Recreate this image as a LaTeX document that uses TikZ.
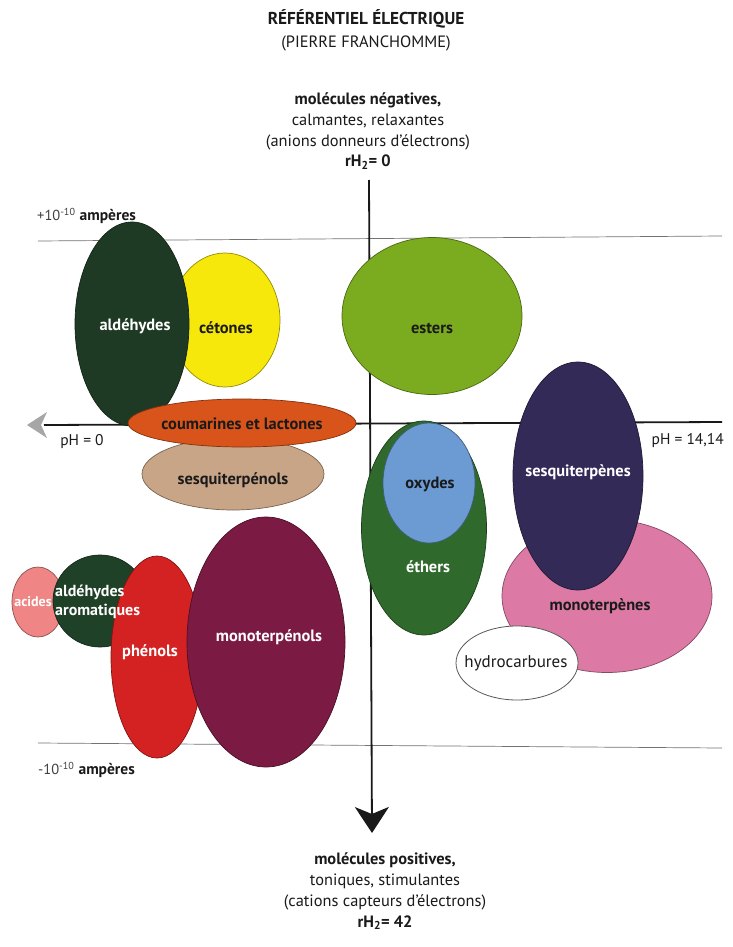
\documentclass[tikz,border=0pt]{standalone}
\usepackage{fontspec}
\setmainfont{PT Sans}
\usetikzlibrary{shapes.geometric,arrows.meta}
\definecolor{cAld}{HTML}{1F3A24}
\definecolor{cCet}{HTML}{F6E80A}
\definecolor{cEst}{HTML}{7BAB1F}
\definecolor{cCou}{HTML}{D8541A}
\definecolor{cSqo}{HTML}{C9A587}
\definecolor{cEth}{HTML}{2F6A2C}
\definecolor{cOxy}{HTML}{6B9BD2}
\definecolor{cSqe}{HTML}{342A58}
\definecolor{cMoe}{HTML}{DC7AA5}
\definecolor{cAci}{HTML}{EF8585}
\definecolor{cAro}{HTML}{1F4128}
\definecolor{cPhe}{HTML}{D42222}
\definecolor{cMoo}{HTML}{7B1A42}
\definecolor{cTxt}{HTML}{1A1A1A}
\tikzset{
  blob/.style={ellipse, fill=#1, draw=#1!60!black, line width=0.7pt, inner sep=0pt},
  lab/.style={font=\fontsize{16.4}{19}\selectfont\bfseries, text=cTxt, inner sep=0pt},
  wlab/.style={font=\fontsize{16.4}{19}\selectfont\bfseries, text=white, inner sep=0pt},
  txt/.style={font=\fontsize{16.4}{19}\selectfont, text=cTxt, inner sep=0pt},
  thinline/.style={draw=black!55, line width=0.7pt},
  axis/.style={draw=black!90, line width=1.8pt}
}
\begin{document}
\begin{tikzpicture}[x=1pt,y=-1pt]
\useasboundingbox[fill=white] (0,0) rectangle (732,947);

% titles
\node[txt, font=\fontsize{17.2}{19}\selectfont\bfseries] (title) at (366,19) {RÉFÉRENTIEL ÉLECTRIQUE};
\node[txt] (author) at (366,43) {(PIERRE FRANCHOMME)};
\node[txt, align=center, font=\fontsize{16.4}{20.8}\selectfont] (top) at (368,131)
  {\textbf{molécules négatives,}\\calmantes, relaxantes\\(anions donneurs d'électrons)\\\textbf{rH\textsubscript{2}= 0}};
\node[txt, align=center, font=\fontsize{16.4}{21}\selectfont] (bottom) at (385,891)
  {\textbf{molécules positives,}\\toniques, stimulantes\\(cations capteurs d'électrons)\\\textbf{rH\textsubscript{2}= 42}};

% thin current lines
\coordinate (tl1) at (38,241); \coordinate (tl2) at (722,236);
\coordinate (bl1) at (38,743); \coordinate (bl2) at (722,748);
\draw[thinline] (tl1) -- (tl2);
\draw[thinline] (bl1) -- (bl2);
\node[txt, anchor=west, font=\fontsize{15.5}{17}\selectfont] (plus) at (37,216)
  {\textcolor{black!75}{\fontsize{14.5}{17}\selectfont+10\textsuperscript{-10}} \textbf{ampères}};
\node[txt, anchor=west, font=\fontsize{15.5}{17}\selectfont] (minus) at (38,770)
  {\textcolor{black!75}{\fontsize{14.5}{17}\selectfont-10\textsuperscript{-10}} \textbf{ampères}};

% axes
\coordinate (hR) at (722,422);
\coordinate (hL) at (44,425);
\coordinate (vT) at (369,180);
\coordinate (vB) at (372,833);
\draw[axis] (hR) -- (hL);
\fill[black!35] (27,425) -- (47,412) -- (41,425) -- (47,438) -- cycle;
\draw[axis, -{Stealth[length=26pt,width=34pt,inset=7pt]}] (vT) -- (vB);
\node[txt, font=\fontsize{15.5}{17}\selectfont] (ph0) at (82,442) {pH = 0};
\node[txt, anchor=east, font=\fontsize{15.5}{17}\selectfont] (ph14) at (724,441) {pH = 14,14};

% ellipses
\node[blob=cCet, minimum width=110, minimum height=134] (cet) at (225,320) {};
\node[blob=cAld, minimum width=114, minimum height=204] (ald) at (132,324) {};
\node[blob=cEst, minimum width=180, minimum height=157] (est) at (432,316) {};
\node[blob=cSqo, minimum width=182, minimum height=72] (sqo) at (233,474) {};
\node[blob=cCou, minimum width=228, minimum height=48] (cou) at (242,423) {};
\node[blob=cEth, minimum width=125, minimum height=214] (eth) at (424,528) {};
\node[blob=cOxy, minimum width=92, minimum height=120] (oxy) at (429,483) {};
\node[blob=cMoe, minimum width=210, minimum height=153] (moe) at (607,596) {};
\node[blob=cSqe, minimum width=130, minimum height=228] (sqe) at (578,476) {};
\node[ellipse, fill=white, draw=black!65, line width=0.8pt, minimum width=122, minimum height=74, inner sep=0pt] (hyd) at (517,663) {};
\node[blob=cAci, minimum width=52, minimum height=70] (aci) at (38,602) {};
\node[blob=cAro, minimum width=94, minimum height=92] (aro) at (100,601) {};
\node[blob=cPhe, minimum width=92, minimum height=202] (phe) at (157,657) {};
\node[blob=cMoo, minimum width=158, minimum height=250] (moo) at (266,642) {};

% labels
\node[wlab] (tald) at (135,326) {aldéhydes};
\node[lab] (tcet) at (226,328) {cétones};
\node[lab] (test) at (432,328) {esters};
\node[lab] (tcou) at (242,424) {coumarines et lactones};
\node[lab] (tsqo) at (233,480) {sesquiterpénols};
\node[lab] (toxy) at (430,484) {oxydes};
\node[wlab] (teth) at (428,567) {éthers};
\node[wlab] (tsqe) at (578,472) {sesquiterpènes};
\node[lab] (tmoe) at (600,606) {monoterpènes};
\node[txt, font=\fontsize{17}{19}\selectfont] (thyd) at (516,663) {hydrocarbures};
\node[wlab, font=\fontsize{14}{17}\selectfont\bfseries] (taci) at (33,602) {acides};
\node[wlab, align=left, anchor=west, font=\fontsize{16}{19}\selectfont\bfseries] (taro) at (55,602) {aldéhydes\\aromatiques};
\node[wlab] (tphe) at (150,652) {phénols};
\node[wlab] (tmoo) at (269,637) {monoterpénols};
\end{tikzpicture}
\end{document}
